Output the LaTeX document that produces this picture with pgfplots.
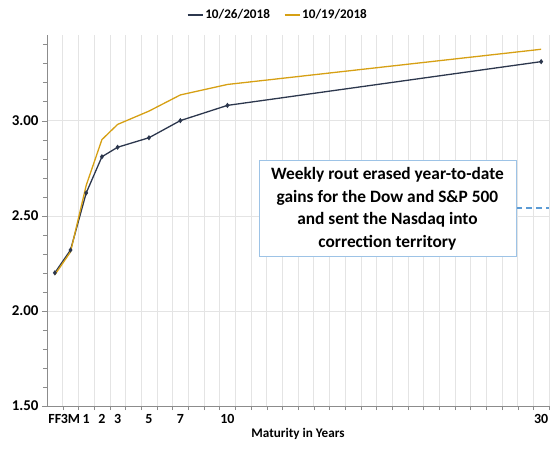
\documentclass[border=0pt]{standalone}
\usepackage{pgfplots}
\pgfplotsset{compat=1.18}
\usepackage{fontspec}
\setmainfont{Carlito}
\definecolor{navy}{RGB}{44,55,77}
\definecolor{gold}{RGB}{214,160,20}
\definecolor{boxblue}{RGB}{157,195,230}
\definecolor{dashblue}{RGB}{91,155,213}
\definecolor{gridgray}{RGB}{228,228,228}
\definecolor{axgray}{RGB}{140,140,140}
\begin{document}
\begin{tikzpicture}
\useasboundingbox (-47bp,-43bp) rectangle (503bp,406bp);
\begin{axis}[at={(0,0)}, anchor=south west, scale only axis, width=502bp, height=371bp,
  xmin=-1.5, xmax=30.5, ymin=1.5, ymax=3.45,
  axis x line=bottom, axis y line=left, axis line style={-, draw=axgray},
  xtick={-1,0,1,2,3,5,7,10,30}, xticklabels={FF,3M,1,2,3,5,7,10,30},
  major x tick style={draw=none},
  minor xtick={-0.5,0.5,...,30.5}, xminorgrids, minor x grid style={gridgray},
  ytick={1.5,2,2.5,3}, minor ytick={1.6,1.7,1.8,1.9,2.1,2.2,2.3,2.4,2.6,2.7,2.8,2.9,3.1,3.2,3.3,3.4},
  ymajorgrids, major y grid style={gridgray},
  tick align=outside, major tick length=5bp, minor tick length=4bp,
  tick style={axgray},
  /pgf/number format/assume math mode=true,
  yticklabel style={font=\bfseries\fontsize{15}{16}\selectfont, /pgf/number format/fixed, /pgf/number format/fixed zerofill, /pgf/number format/precision=2},
  xticklabel style={font=\bfseries\fontsize{14}{15}\selectfont},
  xlabel={Maturity in Years}, xlabel style={font=\bfseries\fontsize{13.2}{14}\selectfont, yshift=2bp},
  legend columns=2,
  legend style={at={(axis description cs:0.46,1.054)}, anchor=center, draw=none, fill=none,
    font=\bfseries\fontsize{13.2}{15}\selectfont, /tikz/every even column/.append style={column sep=12bp}},
  legend image code/.code={\draw[#1] (0bp,0bp) -- (15bp,0bp);},
]
\addplot[navy, line width=1.3bp, mark=diamond*, mark size=1.6bp] coordinates {
(-1,2.20) (0,2.32) (1,2.62) (2,2.81) (3,2.86) (5,2.91) (7,3.00) (10,3.08) (30,3.31)};
\addlegendentry{10/26/2018}
\addplot[gold, line width=1.3bp] coordinates {
(-1,2.19) (0,2.31) (1,2.66) (2,2.90) (3,2.98) (5,3.05) (7,3.135) (10,3.19) (30,3.375)};
\addlegendentry{10/19/2018}
\addplot[dashblue, line width=2bp, dash pattern=on 6bp off 4bp, forget plot] coordinates {(28.4,2.54) (30.5,2.54)};
\node[draw=boxblue, line width=0.8bp, fill=white, align=center, minimum width=257bp, minimum height=96bp,
  inner sep=2bp, font=\bfseries\fontsize{17.4}{22.7}\selectfont] at (axis cs:20.2,2.537)
  {Weekly rout erased year-to-date\\gains for the Dow and S\&P 500\\and sent the Nasdaq into\\correction territory};
\end{axis}
\end{tikzpicture}
\end{document}
